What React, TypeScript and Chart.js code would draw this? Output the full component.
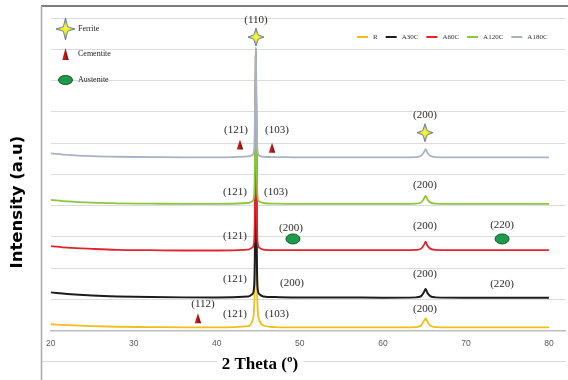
import React, { useEffect, useRef } from "react";
import { Chart, registerables } from "chart.js";

Chart.register(...registerables);

// ---------- data ----------
const SERIES_NAMES = ["R", "A30C", "A60C", "A120C", "A180C"];
const SERIES_COLORS = ["#f0bf1c", "#1c1c1c", "#e2242c", "#8cc63f", "#aab2c6"];

const TWO_THETA = [
  20, 22, 25, 28, 32, 36, 40, 43.8, 44.3, 44.5, 44.6, 44.7, 44.8, 44.9, 45.1,
  45.6, 47, 50, 55, 60, 64.0, 64.6, 64.95, 65.15, 65.35, 65.7, 66.3, 70, 75, 80,
];
const R_VALUES = [
  0.2, 0.17, 0.14, 0.12, 0.11, 0.1, 0.1, 0.14, 0.32, 0.75, 2.2, 8.6, 2.6, 0.8, 0.34,
  0.16, 0.11, 0.1, 0.1, 0.1, 0.11, 0.16, 0.31, 0.39, 0.29, 0.16, 0.11, 0.1, 0.1, 0.1,
];
const A30C_VALUES = [
  1.22, 1.17, 1.12, 1.09, 1.07, 1.06, 1.06, 1.09, 1.17, 1.42, 2.9, 8.8, 3.1, 1.4, 1.17,
  1.09, 1.07, 1.06, 1.06, 1.05, 1.06, 1.1, 1.23, 1.33, 1.21, 1.1, 1.06, 1.05, 1.05, 1.05,
];
const A60C_VALUES = [
  2.7, 2.65, 2.61, 2.58, 2.57, 2.56, 2.56, 2.59, 2.66, 2.88, 4.2, 8.9, 4.3, 2.86, 2.65,
  2.59, 2.57, 2.57, 2.57, 2.57, 2.58, 2.62, 2.74, 2.84, 2.72, 2.62, 2.58, 2.57, 2.57, 2.57,
];
const A120C_VALUES = [
  4.18, 4.13, 4.09, 4.07, 4.06, 4.05, 4.05, 4.08, 4.14, 4.34, 5.6, 9.0, 5.5, 4.32, 4.13,
  4.08, 4.06, 4.05, 4.05, 4.05, 4.06, 4.1, 4.22, 4.31, 4.2, 4.1, 4.06, 4.05, 4.05, 4.05,
];
const A180C_VALUES = [
  5.67, 5.62, 5.58, 5.56, 5.55, 5.54, 5.54, 5.57, 5.62, 5.8, 6.9, 9.07, 6.8, 5.78, 5.6,
  5.56, 5.55, 5.54, 5.54, 5.54, 5.55, 5.59, 5.71, 5.8, 5.69, 5.59, 5.55, 5.54, 5.54, 5.54,
];
const SERIES_VALUES = [R_VALUES, A30C_VALUES, A60C_VALUES, A120C_VALUES, A180C_VALUES];

const X_TICKS = [20, 30, 40, 50, 60, 70, 80];
const X_TITLE = "2 Theta (º)";
const Y_TITLE = "Intensity (a.u)";
const PHASE_NAMES = ["Ferrite", "Cementite", "Austenite"];

const PEAK_LABEL_TEXT = [
  "(110)", "(121)", "(103)", "(200)",
  "(121)", "(103)", "(200)",
  "(121)", "(200)", "(200)", "(220)",
  "(121)", "(200)", "(200)", "(220)",
  "(112)", "(121)", "(103)", "(200)",
];
const PEAK_LABEL_X = [
  44.72, 42.31, 47.25, 65.07,
  42.19, 47.13, 65.07,
  42.19, 48.93, 65.07, 74.35,
  42.19, 49.05, 65.07, 74.35,
  38.33, 42.19, 47.25, 65.07,
];
const PEAK_LABEL_Y = [
  9.94, 6.4, 6.4, 6.88,
  4.44, 4.44, 4.66,
  3.02, 3.28, 3.34, 3.38,
  1.64, 1.51, 1.8, 1.48,
  0.84, 0.51, 0.51, 0.68,
];

const MARKER_PHASE = ["Ferrite", "Cementite", "Cementite", "Ferrite", "Austenite", "Austenite", "Cementite"];
const MARKER_X = [44.72, 42.79, 46.65, 65.07, 49.17, 74.35, 37.73];
const MARKER_Y = [9.39, 5.95, 5.85, 6.33, 2.93, 2.93, 0.39];

// ---------- drawing helpers ----------
function drawStar(ctx: CanvasRenderingContext2D, cx: number, cy: number, rx: number, ry: number) {
  const k = 2.2;
  ctx.save();
  ctx.beginPath();
  ctx.moveTo(cx, cy - ry);
  ctx.lineTo(cx + k, cy - k);
  ctx.lineTo(cx + rx, cy);
  ctx.lineTo(cx + k, cy + k);
  ctx.lineTo(cx, cy + ry);
  ctx.lineTo(cx - k, cy + k);
  ctx.lineTo(cx - rx, cy);
  ctx.lineTo(cx - k, cy - k);
  ctx.closePath();
  const g = ctx.createRadialGradient(cx, cy, 0, cx, cy, Math.max(rx, ry));
  g.addColorStop(0, "#ffff40");
  g.addColorStop(0.45, "#dde23a");
  g.addColorStop(1, "#6f7fa0");
  ctx.fillStyle = g;
  ctx.fill();
  ctx.strokeStyle = "#5d6f95";
  ctx.lineWidth = 0.8;
  ctx.stroke();
  ctx.restore();
}

function drawTriangle(ctx: CanvasRenderingContext2D, cx: number, cy: number, w: number, h: number) {
  ctx.save();
  ctx.beginPath();
  ctx.moveTo(cx, cy - h / 2);
  ctx.lineTo(cx + w / 2, cy + h / 2);
  ctx.lineTo(cx - w / 2, cy + h / 2);
  ctx.closePath();
  const g = ctx.createLinearGradient(cx - w / 2, 0, cx + w / 2, 0);
  g.addColorStop(0, "#e02424");
  g.addColorStop(1, "#7a0a0a");
  ctx.fillStyle = g;
  ctx.fill();
  ctx.restore();
}

function drawEllipse(ctx: CanvasRenderingContext2D, cx: number, cy: number, rx: number, ry: number) {
  ctx.save();
  ctx.beginPath();
  ctx.ellipse(cx, cy, rx, ry, 0, 0, Math.PI * 2);
  ctx.fillStyle = "#1f9a4a";
  ctx.fill();
  ctx.strokeStyle = "#0d5a28";
  ctx.lineWidth = 1;
  ctx.stroke();
  ctx.restore();
}

function drawMarker(ctx: CanvasRenderingContext2D, phase: string, cx: number, cy: number, big: boolean) {
  if (phase === "Ferrite") drawStar(ctx, cx, cy, big ? 9.5 : 8, big ? 11 : 9);
  else if (phase === "Cementite") drawTriangle(ctx, cx, cy, 6.5, big ? 12 : 10);
  else drawEllipse(ctx, cx, cy, 7, big ? 4.5 : 5);
}

const decorPlugin = {
  id: "decor",
  beforeDraw(chart: any) {
    const ctx: CanvasRenderingContext2D = chart.ctx;
    ctx.save();
    ctx.fillStyle = "#ffffff";
    ctx.fillRect(0, 0, chart.width, chart.height);
    // background rule under the x title
    ctx.strokeStyle = "#d9d9d9";
    ctx.lineWidth = 1;
    ctx.beginPath();
    ctx.moveTo(42, 361.5);
    ctx.lineTo(566, 361.5);
    ctx.stroke();
    // frame
    ctx.strokeStyle = "#7d7d7d";
    ctx.lineWidth = 2;
    ctx.beginPath();
    ctx.moveTo(41, 6);
    ctx.lineTo(568, 6);
    ctx.stroke();
    ctx.strokeStyle = "#a8a8a8";
    ctx.lineWidth = 1.5;
    ctx.beginPath();
    ctx.moveTo(41.5, 6);
    ctx.lineTo(41.5, 380);
    ctx.stroke();
    ctx.restore();
  },
  afterDatasetsDraw(chart: any) {
    const ctx: CanvasRenderingContext2D = chart.ctx;
    const xs = chart.scales.x;
    const ys = chart.scales.y;
    ctx.save();
    for (let i = 0; i < MARKER_PHASE.length; i++) {
      drawMarker(ctx, MARKER_PHASE[i], xs.getPixelForValue(MARKER_X[i]), ys.getPixelForValue(MARKER_Y[i]), false);
    }
    ctx.font = "11px 'Liberation Serif'";
    ctx.fillStyle = "#2a2a2a";
    ctx.textAlign = "center";
    ctx.textBaseline = "middle";
    for (let i = 0; i < PEAK_LABEL_TEXT.length; i++) {
      ctx.fillText(PEAK_LABEL_TEXT[i], xs.getPixelForValue(PEAK_LABEL_X[i]), ys.getPixelForValue(PEAK_LABEL_Y[i]));
    }
    ctx.restore();
  },
  afterDraw(chart: any) {
    const ctx: CanvasRenderingContext2D = chart.ctx;
    ctx.save();
    // phase legend (top-left)
    const phaseY = [29, 54, 80];
    ctx.font = "8px 'Liberation Serif'";
    ctx.fillStyle = "#222";
    ctx.textBaseline = "middle";
    ctx.textAlign = "left";
    PHASE_NAMES.forEach((name, i) => {
      drawMarker(ctx, name, 65.5, phaseY[i], true);
      ctx.fillStyle = "#222";
      ctx.fillText(name, 78, phaseY[i]);
    });
    // series legend (top-right)
    ctx.font = "7px 'Liberation Serif'";
    let x = 357;
    const ly = 37;
    SERIES_NAMES.forEach((name, i) => {
      ctx.strokeStyle = SERIES_COLORS[i];
      ctx.lineWidth = 2;
      ctx.beginPath();
      ctx.moveTo(x, ly);
      ctx.lineTo(x + 11, ly);
      ctx.stroke();
      x += 16;
      ctx.fillStyle = "#333";
      ctx.fillText(name, x, ly);
      x += ctx.measureText(name).width + 8;
    });
    // x title
    ctx.font = "bold 17px 'Liberation Serif'";
    ctx.textAlign = "center";
    const w = ctx.measureText(X_TITLE).width;
    ctx.fillStyle = "#ffffff";
    ctx.fillRect(260 - w / 2 - 5, 354, w + 10, 16);
    ctx.fillStyle = "#000";
    ctx.fillText(X_TITLE, 260, 365);
    // y title
    ctx.translate(18, 202);
    ctx.rotate(-Math.PI / 2);
    ctx.font = "bold 16.5px 'DejaVu Sans'";
    ctx.fillText(Y_TITLE, 0, 0);
    ctx.restore();
  },
};

export default function App() {
  const canvasRef = useRef<HTMLCanvasElement | null>(null);

  useEffect(() => {
    const canvas = canvasRef.current;
    if (!canvas) return;
    const datasets = SERIES_NAMES.map((name, i) => ({
      label: name,
      data: TWO_THETA.map((t, j) => ({ x: t, y: SERIES_VALUES[i][j] })),
      borderColor: SERIES_COLORS[i],
      backgroundColor: SERIES_COLORS[i],
      borderWidth: i === 1 ? 2 : 1.8,
      pointRadius: 0,
      cubicInterpolationMode: "monotone" as const,
      fill: false,
      order: SERIES_NAMES.length - i,
    }));
    const chart = new Chart(canvas, {
      type: "line",
      data: { datasets },
      options: {
        responsive: false,
        animation: false,
        devicePixelRatio: 1,
        layout: { padding: { left: 50.7, right: 2.4, top: 18, bottom: 23.3 } },
        plugins: { legend: { display: false }, tooltip: { enabled: false } },
        scales: {
          x: {
            type: "linear",
            min: 20,
            max: 82,
            afterBuildTicks: (s: any) => {
              s.ticks = X_TICKS.map((v) => ({ value: v }));
            },
            grid: { display: false, drawTicks: false },
            border: { display: true, color: "#bdbdbd", width: 1.5 },
            ticks: {
              color: "#595959",
              font: { family: "'Liberation Sans'", size: 8.5 },
              padding: 8,
              maxRotation: 0,
              autoSkip: false,
              callback: (v: any) => String(v),
            },
          },
          y: {
            min: 0,
            max: 10,
            ticks: { display: false, stepSize: 1 },
            grid: { color: "#dcdcdc", lineWidth: 1, drawTicks: false },
            border: { display: false },
          },
        },
      },
      plugins: [decorPlugin],
    });
    return () => chart.destroy();
  }, []);

  return (
    <div style={{ position: "absolute", left: 0, top: 0, width: 568, height: 380, background: "#fff" }}>
      <canvas ref={canvasRef} width={568} height={380} style={{ display: "block" }} />
    </div>
  );
}
